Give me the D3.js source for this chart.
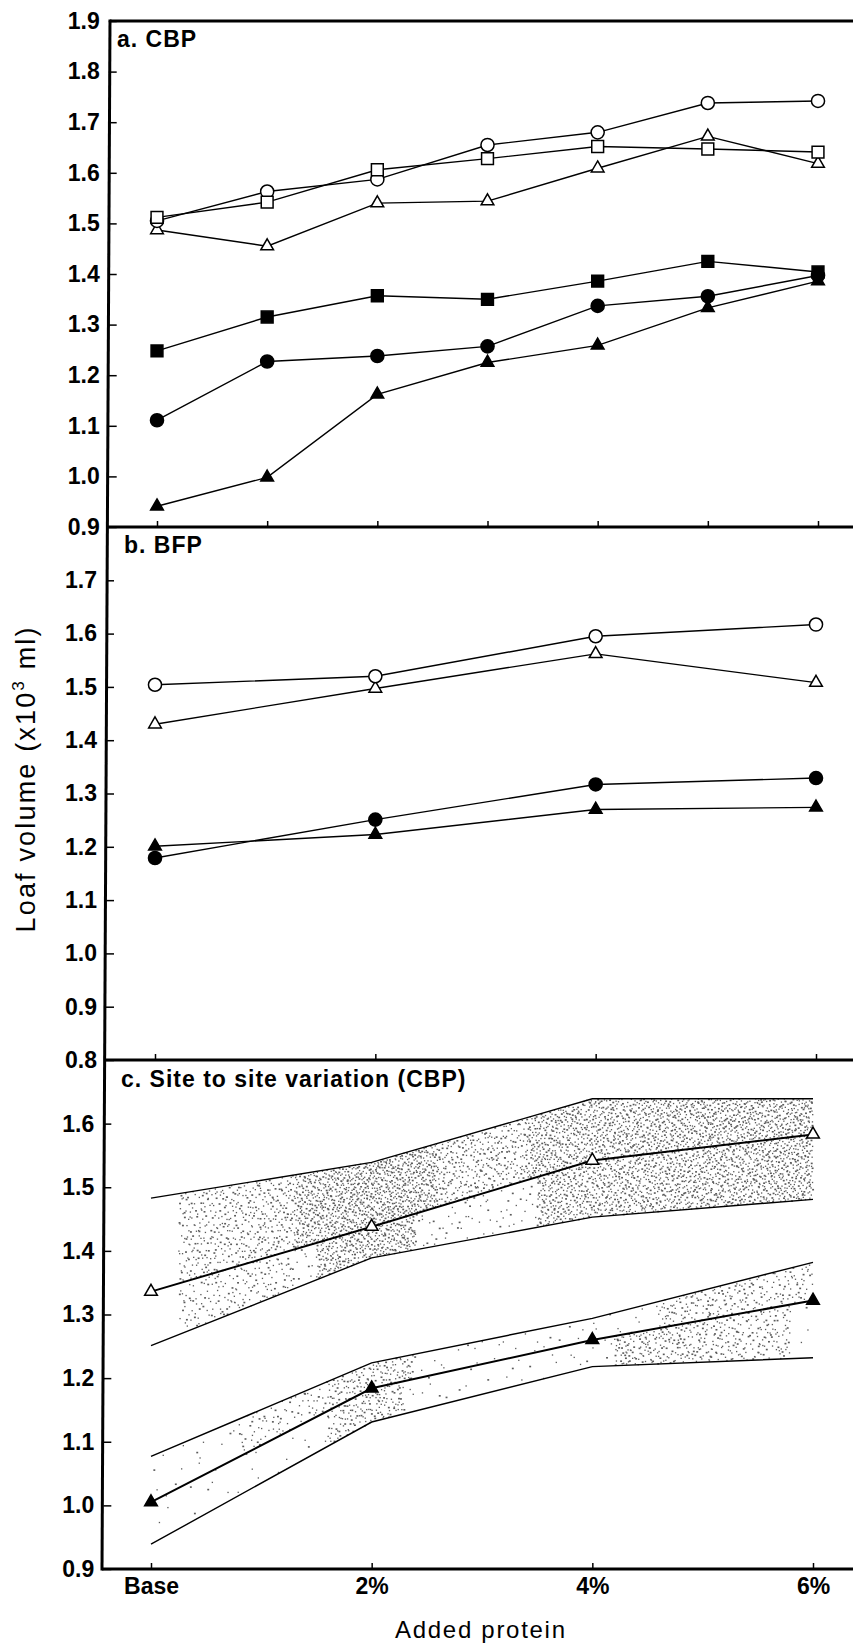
<!DOCTYPE html>
<html>
<head>
<meta charset="utf-8">
<script src="https://cdn.jsdelivr.net/npm/d3@7"></script>
<style>
  body { margin: 0; background: #fff; }
  svg { display: block; }
</style>
</head>
<body>
<svg id="chart" width="853" height="1647"></svg>
<script>
// ---- data -------------------------------------------------------------
// Added protein level (%), 0 = base flour
const levelsA = [0, 1, 2, 3, 4, 5, 6];
const levelsBC = [0, 2, 4, 6];
const xTickLabels = ["Base", "2%", "4%", "6%"];

// y tick labels of each panel
const yTicksA = [0.9, 1.0, 1.1, 1.2, 1.3, 1.4, 1.5, 1.6, 1.7, 1.8, 1.9];
const yTicksB = [0.8, 0.9, 1.0, 1.1, 1.2, 1.3, 1.4, 1.5, 1.6, 1.7];
const yTicksC = [0.9, 1.0, 1.1, 1.2, 1.3, 1.4, 1.5, 1.6];

// a. CBP — loaf volume (x10^3 ml)
const cbpOpenCircle     = [1.505, 1.563, 1.587, 1.655, 1.680, 1.738, 1.742];
const cbpOpenSquare     = [1.512, 1.542, 1.606, 1.628, 1.652, 1.647, 1.641];
const cbpOpenTriangle   = [1.487, 1.455, 1.540, 1.544, 1.609, 1.672, 1.618];
const cbpFilledSquare   = [1.248, 1.315, 1.357, 1.350, 1.386, 1.425, 1.404];
const cbpFilledCircle   = [1.111, 1.227, 1.238, 1.257, 1.337, 1.356, 1.397];
const cbpFilledTriangle = [0.941, 0.998, 1.162, 1.225, 1.259, 1.333, 1.386];

// b. BFP
const bfpOpenCircle     = [1.504, 1.520, 1.595, 1.617];
const bfpOpenTriangle   = [1.430, 1.497, 1.562, 1.508];
const bfpFilledCircle   = [1.179, 1.251, 1.317, 1.329];
const bfpFilledTriangle = [1.201, 1.223, 1.270, 1.274];

// c. Site to site variation (CBP): mean with upper / lower limits
const siteOpenMean   = [1.336, 1.438, 1.542, 1.583];
const siteOpenUpper  = [1.483, 1.539, 1.639, 1.639];
const siteOpenLower  = [1.251, 1.389, 1.453, 1.481];
const siteFilledMean  = [1.005, 1.184, 1.260, 1.322];
const siteFilledUpper = [1.077, 1.224, 1.294, 1.382];
const siteFilledLower = [0.939, 1.131, 1.218, 1.232];

// ---- layout -----------------------------------------------------------
const FONT = "'Liberation Sans', Arial, Helvetica, sans-serif";
const svg = d3.select("#chart");
svg.append("rect").attr("width", 853).attr("height", 1647).attr("fill", "#fff");

const yTop = 21, yAB = 527, yBC = 1060, yBottom = 1569;
// the left frame leans slightly
const frameX = y => 110 - 8 * (y - yTop) / (yBottom - yTop);

const xA = d3.scaleLinear().domain([0, 6]).range([157, 818]);
const xB = d3.scaleLinear().domain([0, 6]).range([155, 816]);
const xC = d3.scaleLinear().domain([0, 6]).range([151, 813]);
const yA = d3.scaleLinear().domain([0.9, 1.9]).range([yAB, yTop]);
const yB = d3.scaleLinear().domain([0.8, 1.8]).range([yBC, yAB]);
const yC = d3.scaleLinear().domain([0.9, 1.7]).range([yBottom, yBC]);

// ---- stipple texture for the variation bands (panel c) ---------------
function halton(i, b) {
  let f = 1, r = 0;
  while (i > 0) { f /= b; r += f * (i % b); i = Math.floor(i / b); }
  return r;
}
function stipple(lower, mean, upper, weight, n, g) {
  const lo = d3.scaleLinear().domain(levelsBC).range(lower);
  const mi = d3.scaleLinear().domain(levelsBC).range(mean);
  const hi = d3.scaleLinear().domain(levelsBC).range(upper);
  const pts = [];
  for (let i = 1; i <= n; i++) {
    const p = 6 * halton(i, 2);
    const t = halton(i, 3);
    const v = lo(p) + t * (hi(p) - lo(p));
    const above = v > mi(p);
    if (halton(i, 5) < weight(p, above)) pts.push([xC(p), yC(v), halton(i, 7)]);
  }
  g.selectAll(null).data(pts).join("rect")
    .attr("x", d => d[0] - 0.7).attr("y", d => d[1] - 0.7)
    .attr("width", d => d[2] < 0.3 ? 1.9 : 1.3)
    .attr("height", d => d[2] < 0.3 ? 1.6 : 1.3)
    .attr("fill", "#333");
}
const dots = svg.append("g").attr("opacity", 0.8);
stipple(siteOpenLower, siteOpenMean, siteOpenUpper, (p, above) => {
  if (p < 0.25) return 0;
  if (above) {
    if (p > 1.3 && p < 2.6) return 0.9;
    if (p > 3.4) return 0.85;
    return 0.5;
  }
  if (p > 1.5 && p < 2.4) return 0.8;
  if (p > 3.5) return 0.8;
  if (p < 1.3) return 0.35;
  return 0.1;
}, 8000, dots);
stipple(siteFilledLower, siteFilledMean, siteFilledUpper, (p, above) => {
  if (above) {
    if (p > 0.8 && p < 1.6) return 0.25;
    if (p >= 1.6 && p < 2.4) return 0.45;
    if (p > 4.6) return 0.45;
    return 0.04;
  }
  if (p > 1.6 && p < 2.3) return 0.45;
  if (p > 4.2 && p < 5.8) return 0.5;
  return 0.03;
}, 5000, dots);

// ---- axes -------------------------------------------------------------
function styleAxis(g, size) {
  g.attr("font-family", FONT).attr("font-size", size).attr("font-weight", "bold");
  g.selectAll("text").attr("fill", "#000");
  g.selectAll("line").attr("stroke", "#000").attr("stroke-width", 1.5);
  g.select(".domain").remove();
}
function yAxis(scale, ticks, y0, y1) {
  const ax = frameX((y0 + y1) / 2);
  const g = svg.append("g").attr("transform", `translate(${ax},0)`)
    .call(d3.axisLeft(scale).tickValues(ticks).tickFormat(d3.format(".1f"))
      .tickSizeInner(-8).tickSizeOuter(0).tickPadding(9));
  styleAxis(g, 23);
}
function xAxis(scale, ticks, yPos, labels) {
  const g = svg.append("g").attr("transform", `translate(0,${yPos})`)
    .call(d3.axisBottom(scale).tickValues(ticks)
      .tickFormat((d, i) => labels ? labels[i] : "")
      .tickSizeInner(-6).tickSizeOuter(0).tickPadding(9));
  styleAxis(g, 23);
}
yAxis(yA, yTicksA, yTop, yAB);
yAxis(yB, yTicksB, yAB, yBC);
yAxis(yC, yTicksC, yBC, yBottom);
xAxis(xA, levelsA, yAB, null);
xAxis(xB, levelsBC, yBC, null);
xAxis(xC, levelsBC, yBottom, xTickLabels);

// frame: leaning left edge, top line and panel dividers
const frame = svg.append("g").attr("stroke", "#000").attr("stroke-width", 3).attr("fill", "none");
frame.append("line").attr("x1", frameX(yTop)).attr("y1", yTop - 1.5)
  .attr("x2", frameX(yBottom)).attr("y2", yBottom + 1.5);
[yTop, yAB, yBC, yBottom].forEach(y => {
  frame.append("line").attr("x1", frameX(y)).attr("x2", 853).attr("y1", y).attr("y2", y);
});

// ---- series -----------------------------------------------------------
const symbols = {
  circle:   { type: d3.symbolCircle,   size: 135 },
  square:   { type: d3.symbolSquare,   size: 140 },
  triangle: { type: d3.symbolTriangle, size: 70 }
};
function series(xs, ys, levels, values, shape, filled, lineWidth) {
  const pts = levels.map((l, i) => [xs(l), ys(values[i])]);
  svg.append("path").attr("d", d3.line()(pts))
    .attr("fill", "none").attr("stroke", "#000").attr("stroke-width", lineWidth || 1.4);
  const s = symbols[shape];
  svg.append("g").selectAll("path").data(pts).join("path")
    .attr("transform", d => `translate(${d[0]},${d[1]})`)
    .attr("d", d3.symbol().type(s.type).size(s.size)())
    .attr("fill", filled ? "#000" : "#fff")
    .attr("stroke", "#000").attr("stroke-width", 1.5);
}
function plainLine(xs, ys, levels, values) {
  svg.append("path").attr("d", d3.line()(levels.map((l, i) => [xs(l), ys(values[i])])))
    .attr("fill", "none").attr("stroke", "#000").attr("stroke-width", 1.4);
}

// a. CBP
series(xA, yA, levelsA, cbpFilledTriangle, "triangle", true);
series(xA, yA, levelsA, cbpFilledCircle, "circle", true);
series(xA, yA, levelsA, cbpFilledSquare, "square", true);
series(xA, yA, levelsA, cbpOpenTriangle, "triangle", false);
series(xA, yA, levelsA, cbpOpenCircle, "circle", false);
series(xA, yA, levelsA, cbpOpenSquare, "square", false);

// b. BFP
series(xB, yB, levelsBC, bfpFilledTriangle, "triangle", true);
series(xB, yB, levelsBC, bfpFilledCircle, "circle", true);
series(xB, yB, levelsBC, bfpOpenTriangle, "triangle", false);
series(xB, yB, levelsBC, bfpOpenCircle, "circle", false);

// c. Site to site variation
plainLine(xC, yC, levelsBC, siteOpenUpper);
plainLine(xC, yC, levelsBC, siteOpenLower);
plainLine(xC, yC, levelsBC, siteFilledUpper);
plainLine(xC, yC, levelsBC, siteFilledLower);
series(xC, yC, levelsBC, siteOpenMean, "triangle", false, 2);
series(xC, yC, levelsBC, siteFilledMean, "triangle", true, 2);

// ---- titles -----------------------------------------------------------
const panelTitle = (x, y, t) => svg.append("text").attr("x", x).attr("y", y).text(t)
  .attr("font-family", FONT).attr("font-size", 23).attr("font-weight", "bold")
  .attr("letter-spacing", 1).attr("fill", "#000");
panelTitle(117, 47, "a. CBP");
panelTitle(124, 553, "b. BFP");
panelTitle(121, 1087, "c. Site to site variation (CBP)");

svg.append("text").attr("x", 480).attr("y", 1638).attr("text-anchor", "middle")
  .attr("font-family", FONT).attr("font-size", 24).attr("fill", "#000")
  .attr("textLength", 170).attr("lengthAdjust", "spacing")
  .text("Added protein");

const yTitle = svg.append("text")
  .attr("transform", "translate(35,780) rotate(-90)")
  .attr("text-anchor", "middle")
  .attr("font-family", FONT).attr("font-size", 27).attr("fill", "#000")
  .attr("textLength", 305).attr("lengthAdjust", "spacing");
yTitle.append("tspan").text("Loaf volume (x10");
yTitle.append("tspan").attr("dy", -11).attr("font-size", 17).text("3");
yTitle.append("tspan").attr("dy", 11).text(" ml)");
</script>
</body>
</html>
